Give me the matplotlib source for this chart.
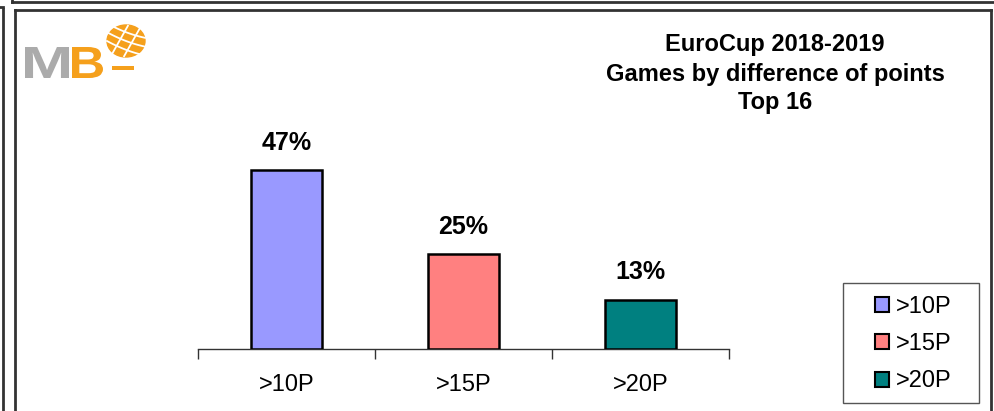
import matplotlib
matplotlib.use("Agg")
import matplotlib.pyplot as plt
from matplotlib.lines import Line2D
from matplotlib.patches import Patch, Ellipse, Rectangle, PathPatch
from matplotlib.textpath import TextPath
from matplotlib.font_manager import FontProperties
from matplotlib.transforms import Affine2D
import numpy as np

categories = [">10P", ">15P", ">20P"]
values = [47, 25, 13]
colors = ["#9999FF", "#FF8080", "#008080"]
title_lines = ["EuroCup 2018-2019", "Games by difference of points", "Top 16"]

plt.rcParams["font.family"] = ["Liberation Sans", "DejaVu Sans"]

W, H = 994, 411
fig = plt.figure(figsize=(W / 100, H / 100), dpi=100)

def fx(px):
    return px / W

def fy(py):
    return 1 - py / H

# frames around the chart
def fline(x0, y0, x1, y1, lw=2.0, c="#333333"):
    fig.add_artist(Line2D([fx(x0), fx(x1)], [fy(y0), fy(y1)], lw=lw, color=c,
                          transform=fig.transFigure))

fline(12, 2, 994, 2)
fline(12, 0, 12, 2)
fline(3, 9, 3, 411)
fline(0, 7, 3, 7)
fline(15, 10, 991, 10)
fline(15, 10, 15, 411)
fline(991, 10, 991, 411)

# bar chart
ax = fig.add_axes([fx(198), fy(349), fx(729) - fx(198), fy(121) - fy(349)])
x = np.arange(len(categories))
ax.bar(x, values, width=0.4, color=colors, edgecolor="black", linewidth=1.8, zorder=3)
ax.set_xlim(-0.5, len(categories) - 0.5)
ax.set_ylim(0, 60)
for xi, v in zip(x, values):
    ax.text(xi, v + 4.0, f"{v}%", ha="center", va="bottom", fontsize=18, fontweight="bold")
for s in ["top", "right", "left"]:
    ax.spines[s].set_visible(False)
ax.spines["bottom"].set_color("#333333")
ax.spines["bottom"].set_linewidth(1.0)
ax.set_yticks([])
ax.set_xticks(np.arange(len(categories) + 1) - 0.5, minor=False)
ax.set_xticklabels([""] * (len(categories) + 1))
ax.tick_params(axis="x", length=7, width=1.0, color="#333333", direction="out")
for xi, c in zip(x, categories):
    ax.text(xi, -9.4, c, ha="center", va="center", fontsize=17)
ax.patch.set_alpha(0)

# title
for i, t in enumerate(title_lines):
    fig.text(fx(775), fy(45 + 29 * i), t, ha="center", va="center",
             fontsize=17, fontweight="bold")

# legend
handles = [Patch(facecolor=c, edgecolor="black", linewidth=1.5) for c in colors]
leg = fig.legend(handles, categories, loc="center",
                 bbox_to_anchor=(fx(913), fy(344)), frameon=False,
                 fontsize=17, handlelength=0.6, handleheight=0.6, handletextpad=0.3,
                 labelspacing=0.65, borderpad=0, borderaxespad=0)
fig.add_artist(Rectangle((fx(843), fy(403)), fx(979) - fx(843), fy(283) - fy(403),
                         fill=False, edgecolor="#555555", lw=1.0,
                         transform=fig.transFigure))

# logo, drawn in pixel units (y pointing down)
lax = fig.add_axes([0, fy(H), 1, 1])
lax.set_xlim(0, W)
lax.set_ylim(H, 0)
lax.axis("off")

def letter(ch, x0, x1, y0, y1, color):
    p = TextPath((0, 0), ch, size=1, prop=FontProperties(family="Liberation Sans", weight="bold"))
    e = p.get_extents()
    tr = (Affine2D().translate(-e.x0, -e.y1)
          .scale((x1 - x0) / e.width, -(y1 - y0) / e.height)
          .translate(x0, y0))
    lax.add_patch(PathPatch(tr.transform_path(p), color=color, lw=0))

letter("M", 25, 69, 47, 78, "#ABABAB")
letter("B", 72, 103, 47, 78, "#F5A01C")

cx, cy, rx, ry = 126, 41, 19, 16
lax.add_patch(Ellipse((cx, cy), 2 * rx, 2 * ry, color="#F5A01C"))
t = np.linspace(-1.0, 1.0, 50)
for off in [-0.55, 0.0, 0.55]:
    lax.plot(cx + rx * t, cy - ry * (-0.45 * t + off + 0.1 * t ** 2), color="white", lw=1.3)
for off in [-0.35, 0.35]:
    lax.plot(cx + rx * (0.45 * t + off), cy - ry * 0.95 * t, color="white", lw=1.3)
lax.add_patch(Rectangle((112, 66.5), 22, 3.5, color="#F5A01C", lw=0))

fig.savefig("out.png", dpi=100)
